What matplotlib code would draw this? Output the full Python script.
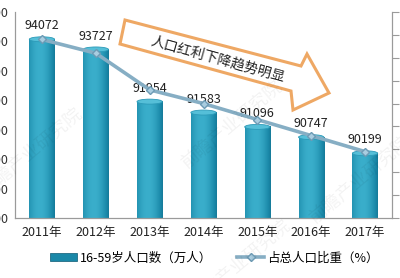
import numpy as np
import matplotlib
matplotlib.use("Agg")
import matplotlib.pyplot as plt
from matplotlib.patches import Ellipse, Polygon
from matplotlib.lines import Line2D
from matplotlib.patches import Patch

plt.rcParams['font.family'] = ['Noto Sans CJK SC', 'DejaVu Sans']

# data
years = ['2011年', '2012年', '2013年', '2014年', '2015年', '2016年', '2017年']
pop = [94072, 93727, 91954, 91583, 91096, 90747, 90199]   # 万人
share = [69.8, 69.2, 67.6, 67.0, 66.3, 65.6, 64.9]       # %
bar_label = '16-59岁人口数（万人）'
line_label = '占总人口比重（%）'
note = '人口红利下降趋势明显'

W, H = 400, 278
y0, y1 = 88000, 95000
fig = plt.figure(figsize=(W / 100, H / 100), dpi=100, facecolor='white')
ax = fig.add_axes([15 / W, 1 - 218 / H, (392 - 15) / W, (218 - 12) / H])
ax2 = ax.twinx()

x = np.arange(len(years))
bw = 0.47

# bars with a horizontal gradient (cylinder look)
grad = np.linspace(0, 1, 64)
shade = 0.55 + 0.45 * np.sin(np.pi * (0.15 + 0.85 * grad))
cmap = matplotlib.colors.LinearSegmentedColormap.from_list(
    'teal', ['#0b5a73', '#1a88a8', '#3aaecb'])
bars = ax.bar(x, pop, width=bw, color='none', edgecolor='none', zorder=2)
for b in bars:
    bx = b.get_x()
    ax.imshow(shade[np.newaxis, :], cmap=cmap, aspect='auto',
              extent=[bx, bx + b.get_width(), y0, b.get_height()],
              vmin=0.3, vmax=1.0, zorder=2)
ax.set_xlim(-0.5, len(years) - 0.5)
ax.set_ylim(y0, y1)
ax2.set_ylim(62, 71)

# top caps
cap_h = (y1 - y0) * 5 / 206
for xi, v in zip(x, pop):
    ax.add_patch(Ellipse((xi, v), bw, cap_h, facecolor='#55bfd8',
                         edgecolor='#2c9ab8', lw=0.6, zorder=3))

for xi, v in zip(x, pop):
    ax.annotate(str(v), (xi, v), xytext=(0, 5), textcoords='offset points',
                ha='center', va='bottom', fontsize=9, color='#222222', zorder=6)

# share line on right axis
ax2.plot(x, share, color='#86aec4', lw=2.6, marker='D', markersize=4.5,
         markerfacecolor='#a9cde0', markeredgecolor='#6d9bb5', zorder=5)

# axes styling
for a in (ax, ax2):
    a.spines['top'].set_visible(False)
    a.spines['left'].set_color('#9a9a9a')
    a.spines['right'].set_color('#9a9a9a')
    a.spines['bottom'].set_color('#9a9a9a')
ax.set_xticks(x)
ax.set_xticklabels(years, fontsize=9, color='#222222')
ax.tick_params(axis='x', length=0, pad=6)
ax.set_yticks(np.arange(y0, y1 + 1, 1000))
ax.tick_params(axis='y', length=0, pad=5, labelsize=9, labelcolor='#333333')
ax2.set_yticks(np.arange(62, 71.1, 1))
ax2.tick_params(axis='y', length=5, color='#9a9a9a', pad=10, labelsize=9)
ax.set_zorder(ax2.get_zorder() - 1)
ax2.patch.set_visible(False)
ax.patch.set_facecolor('white')

# big hollow arrow annotation (figure pixel coords)
pts = [(125, 20), (301, 66), (307, 54), (329, 93), (293, 110), (291, 91), (120, 44)]
poly = Polygon([(px / W, 1 - py / H) for px, py in pts], closed=True,
               transform=fig.transFigure, facecolor='white', edgecolor='#eea35c',
               lw=2.2, alpha=0.95, zorder=10)
fig.patches.append(poly)
fig.text(218 / W, 1 - 59 / H, note, rotation=-15.5, ha='center', va='center',
         fontsize=10, color='#222222', zorder=11, rotation_mode='anchor')

# faint watermarks
for wx, wy in [(0.08, 0.45), (0.58, 0.55), (0.9, 0.35), (0.6, 0.05)]:
    fig.text(wx, wy, '前瞻产业研究院', rotation=40, fontsize=13, color='#000000',
             alpha=0.05, ha='center', va='center', zorder=12)

handles = [Patch(facecolor='#1a88a8', edgecolor='#0b5a73', lw=0.5),
           Line2D([], [], color='#86aec4', lw=2.6, marker='D', markersize=4.5,
                  markerfacecolor='#a9cde0', markeredgecolor='#6d9bb5')]
fig.legend(handles, [bar_label, line_label], loc='center', ncol=2,
           bbox_to_anchor=(0.535, 1 - 258 / H), frameon=False, fontsize=9,
           handlelength=2.2, handleheight=0.55, handletextpad=0.2, columnspacing=2.0)

fig.savefig('out.png', dpi=100, facecolor='white')
